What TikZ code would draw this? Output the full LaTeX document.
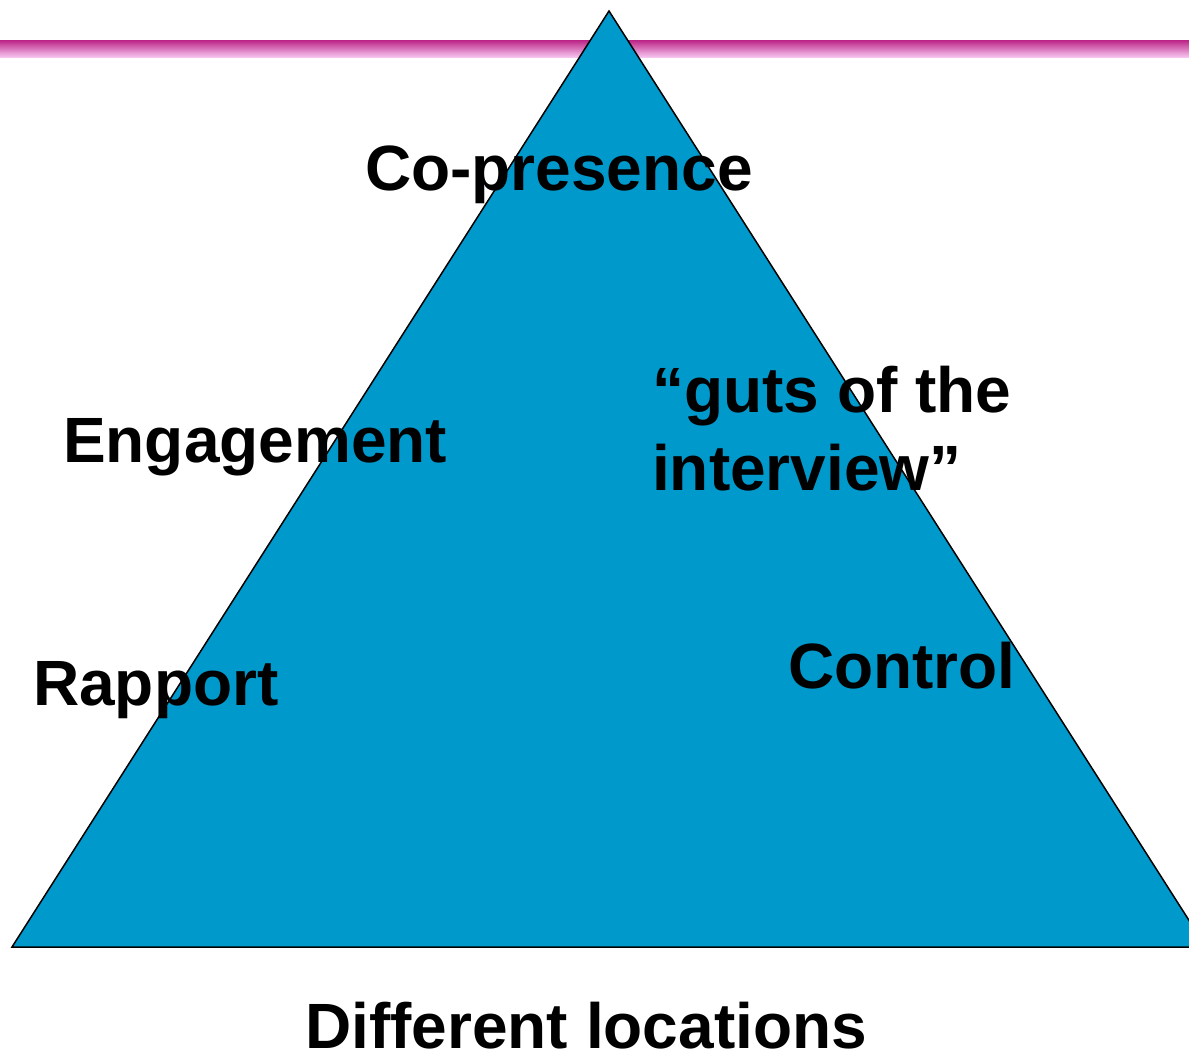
\documentclass[tikz,border=0pt]{standalone}
\usepackage{fontspec}
\setmainfont{Liberation Sans}
\definecolor{pyramid}{RGB}{0,153,204}
\definecolor{bartop}{RGB}{190,45,140}
\definecolor{barbottom}{RGB}{250,205,245}
\tikzset{word/.style={anchor=base west, inner sep=0pt, font=\fontsize{64}{74}\selectfont\bfseries}}

\begin{document}
\begin{tikzpicture}[x=1pt,y=-1pt]
\useasboundingbox (0,0) rectangle (1189,1054);
\clip (0,0) rectangle (1189,1054);

% header bar
\shade [top color=bartop, bottom color=barbottom] (0,41) rectangle (1189,58);

% the pyramid
\draw [fill=pyramid, line width=1.5pt, line join=miter] (609,11) -- (12,947) -- (1206,947) -- cycle;

\node[word] (copresence) at (365,190) {Co-presence};
\node[word] (engagement) at (63,462) {Engagement};
\node[word, align=left, anchor=north west, font=\fontsize{64}{78}\selectfont\bfseries] (guts) at (652,366) {“guts of the\\interview”};
\node[word] (rapport) at (33,705) {Rapport};
\node[word] (control) at (788,688) {Control};
\node[word] (locations) at (305,1048) {Different locations};

\end{tikzpicture}
\end{document}
